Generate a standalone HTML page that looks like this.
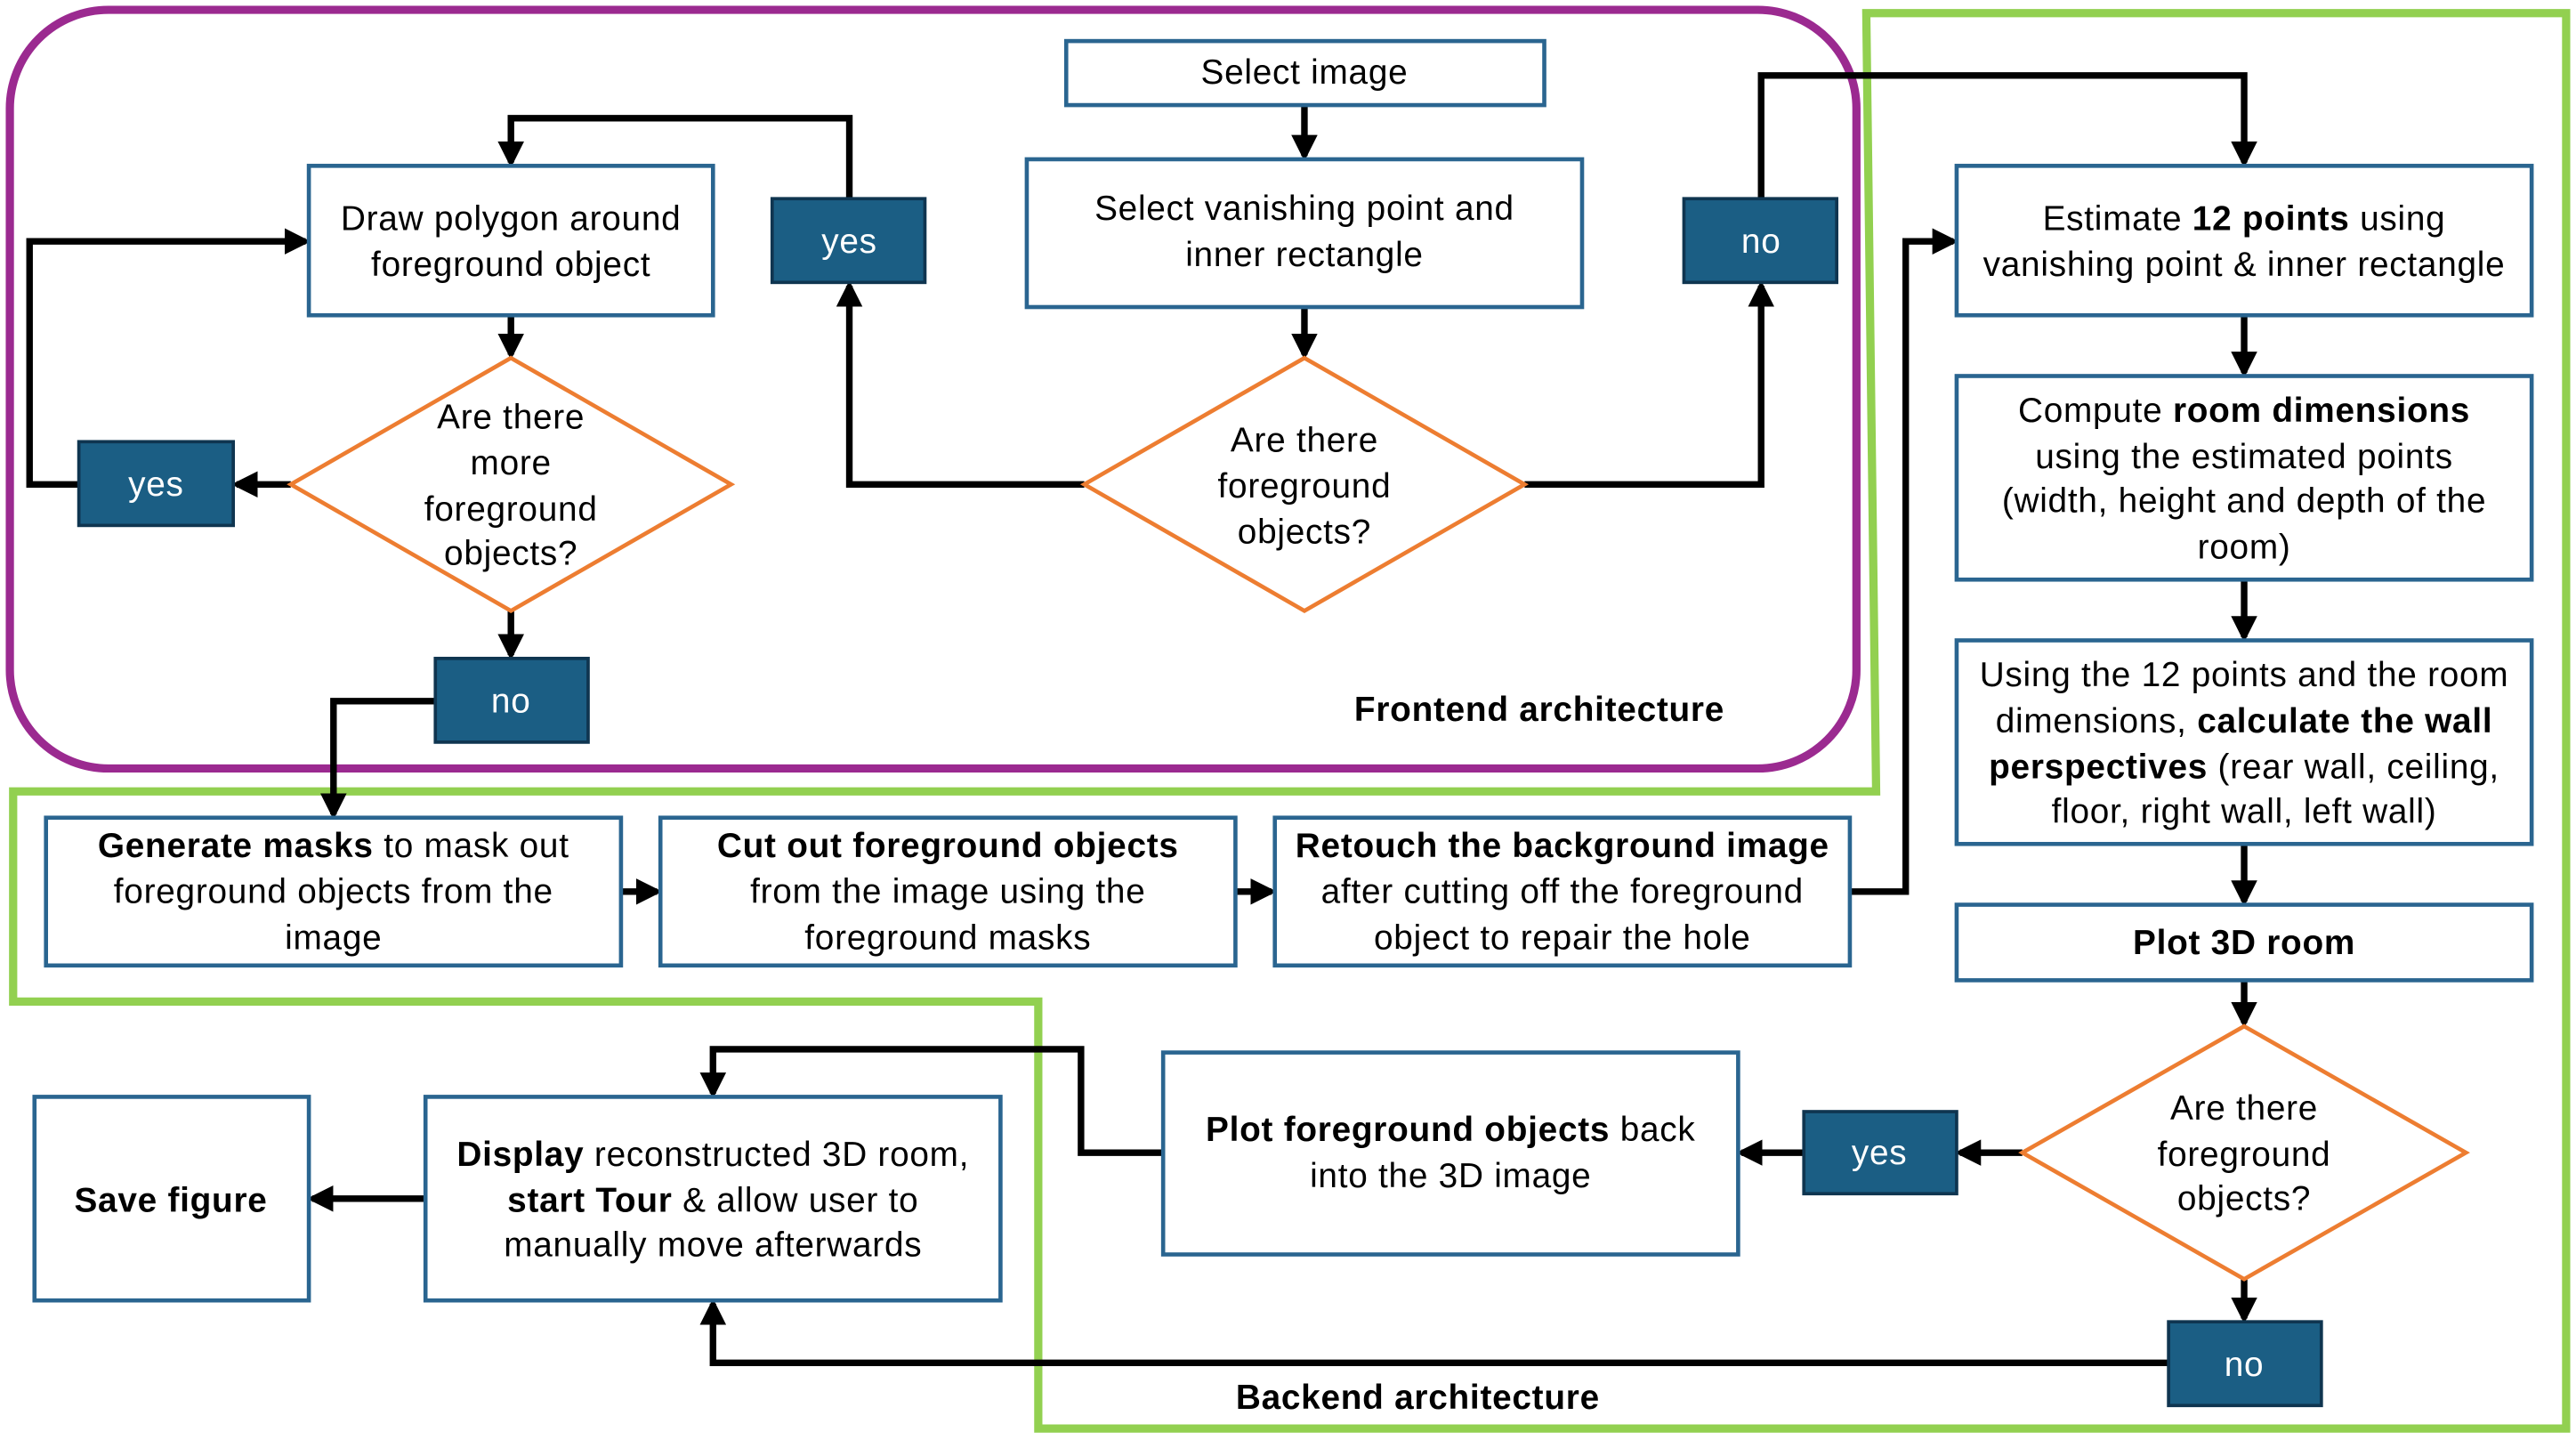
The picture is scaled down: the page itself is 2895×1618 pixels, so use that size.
<!DOCTYPE html>
<html><head><meta charset="utf-8"><style>
html,body{margin:0;padding:0;background:#fff;}
svg{display:block;}
text{font-family:"Liberation Sans",sans-serif;font-size:21px;letter-spacing:0.4px;fill:#000;text-anchor:middle;}
.b{font-weight:bold;}
.w{fill:#fff;}
.box{fill:#fff;stroke:#2a6590;stroke-width:2.5;}
.dk{fill:#1b5e84;stroke:#0f3550;stroke-width:2;}
.dm{fill:#fff;stroke:#ed7d31;stroke-width:2.5;}
.ln{fill:none;stroke:#000;stroke-width:4;}
</style></head><body>
<svg width="2895" height="1618" viewBox="0 0 1568 877" preserveAspectRatio="none" xmlns="http://www.w3.org/2000/svg">
<defs><marker id="a" markerWidth="4" markerHeight="4" refX="3.2" refY="2" orient="auto" markerUnits="strokeWidth"><path d="M0,0 L4,2 L0,4 z" fill="#000"/></marker></defs>
<rect x="6" y="6" width="1124" height="462" rx="60" fill="none" stroke="#9b2a90" stroke-width="5"/>
<path d="M1136,8 L1562,8 L1562,870 L632,870 L632,610 L8,610 L8,482 L1142,482 Z" fill="none" stroke="#92d050" stroke-width="5"/>

<g class="ln">
<path d="M794,64 V95" marker-end="url(#a)"/>
<path d="M794,187 V216" marker-end="url(#a)"/>
<path d="M660,295 H517 V174" marker-end="url(#a)"/>
<path d="M517,121 V72 H311 V99" marker-end="url(#a)"/>
<path d="M928,295 H1072 V174" marker-end="url(#a)"/>
<path d="M1072,121 V46 H1366 V99" marker-end="url(#a)"/>
<path d="M311,192 V216" marker-end="url(#a)"/>
<path d="M177,295 H144" marker-end="url(#a)"/>
<path d="M48,295 H18 V147 H186" marker-end="url(#a)"/>
<path d="M311,372 V399" marker-end="url(#a)"/>
<path d="M265,427 H203 V496" marker-end="url(#a)"/>
<path d="M378,543 H400" marker-end="url(#a)"/>
<path d="M752,543 H774" marker-end="url(#a)"/>
<path d="M1126,543 H1160 V147 H1189" marker-end="url(#a)"/>
<path d="M1366,192 V227" marker-end="url(#a)"/>
<path d="M1366,353 V388" marker-end="url(#a)"/>
<path d="M1366,514 V549" marker-end="url(#a)"/>
<path d="M1366,597 V623" marker-end="url(#a)"/>
<path d="M1231,702 H1193" marker-end="url(#a)"/>
<path d="M1098,702 H1060" marker-end="url(#a)"/>
<path d="M708,702 H658 V639 H434 V666" marker-end="url(#a)"/>
<path d="M1366,779 V803" marker-end="url(#a)"/>
<path d="M1320,830 H434 V794" marker-end="url(#a)"/>
<path d="M259,730 H190" marker-end="url(#a)"/>
</g>

<rect class="box" x="649" y="25" width="291" height="39"/><text x="794" y="51">Select image</text>
<rect class="box" x="625" y="97" width="338" height="90"/><text x="794" y="134">Select vanishing point and</text><text x="794" y="162">inner rectangle</text>
<polygon class="dm" points="794,218 928,295 794,372 660,295"/><text x="794" y="275">Are there</text><text x="794" y="303">foreground</text><text x="794" y="331">objects?</text>
<rect class="box" x="188" y="101" width="246" height="91"/><text x="311" y="140">Draw polygon around</text><text x="311" y="168">foreground object</text>
<polygon class="dm" points="311,218 445,295 311,372 177,295"/><text x="311" y="261">Are there</text><text x="311" y="289">more</text><text x="311" y="317">foreground</text><text x="311" y="344">objects?</text>
<rect class="dk" x="470" y="121" width="93" height="51"/><text class="w" x="517" y="154">yes</text>
<rect class="dk" x="1025" y="121" width="93" height="51"/><text class="w" x="1072" y="154">no</text>
<rect class="dk" x="48" y="269" width="94" height="51"/><text class="w" x="95" y="302">yes</text>
<rect class="dk" x="265" y="401" width="93" height="51"/><text class="w" x="311" y="434">no</text>
<text class="b" x="937" y="439">Frontend architecture</text>

<rect class="box" x="28" y="498" width="350" height="90"/><text x="203" y="522"><tspan class="b">Generate masks</tspan> to mask out</text><text x="203" y="550">foreground objects from the</text><text x="203" y="578">image</text>
<rect class="box" x="402" y="498" width="350" height="90"/><text x="577" y="522" class="b">Cut out foreground objects</text><text x="577" y="550">from the image using the</text><text x="577" y="578">foreground masks</text>
<rect class="box" x="776" y="498" width="350" height="90"/><text x="951" y="522" class="b">Retouch the background image</text><text x="951" y="550">after cutting off the foreground</text><text x="951" y="578">object to repair the hole</text>

<rect class="box" x="1191" y="101" width="350" height="91"/><text x="1366" y="140">Estimate <tspan class="b">12 points</tspan> using</text><text x="1366" y="168">vanishing point &amp; inner rectangle</text>
<rect class="box" x="1191" y="229" width="350" height="124"/><text x="1366" y="257">Compute <tspan class="b">room dimensions</tspan></text><text x="1366" y="285">using the estimated points</text><text x="1366" y="312">(width, height and depth of the</text><text x="1366" y="340">room)</text>
<rect class="box" x="1191" y="390" width="350" height="124"/><text x="1366" y="418">Using the 12 points and the room</text><text x="1366" y="446">dimensions, <tspan class="b">calculate the wall</tspan></text><text x="1366" y="474"><tspan class="b">perspectives</tspan> (rear wall, ceiling,</text><text x="1366" y="501">floor, right wall, left wall)</text>
<rect class="box" x="1191" y="551" width="350" height="46"/><text class="b" x="1366" y="581">Plot 3D room</text>
<polygon class="dm" points="1366,625 1501,702 1366,779 1231,702"/><text x="1366" y="682">Are there</text><text x="1366" y="710">foreground</text><text x="1366" y="737">objects?</text>
<rect class="dk" x="1098" y="677" width="93" height="50"/><text class="w" x="1144" y="709">yes</text>
<rect class="dk" x="1320" y="805" width="93" height="51"/><text class="w" x="1366" y="838">no</text>
<rect class="box" x="708" y="641" width="350" height="123"/><text x="883" y="695"><tspan class="b">Plot foreground objects</tspan> back</text><text x="883" y="723">into the 3D image</text>
<rect class="box" x="259" y="668" width="350" height="124"/><text x="434" y="710"><tspan class="b">Display</tspan> reconstructed 3D room,</text><text x="434" y="738"><tspan class="b">start Tour</tspan> &amp; allow user to</text><text x="434" y="765">manually move afterwards</text>
<rect class="box" x="21" y="668" width="167" height="124"/><text class="b" x="104" y="738">Save figure</text>
<text class="b" x="863" y="858">Backend architecture</text>
</svg>
</body></html>
